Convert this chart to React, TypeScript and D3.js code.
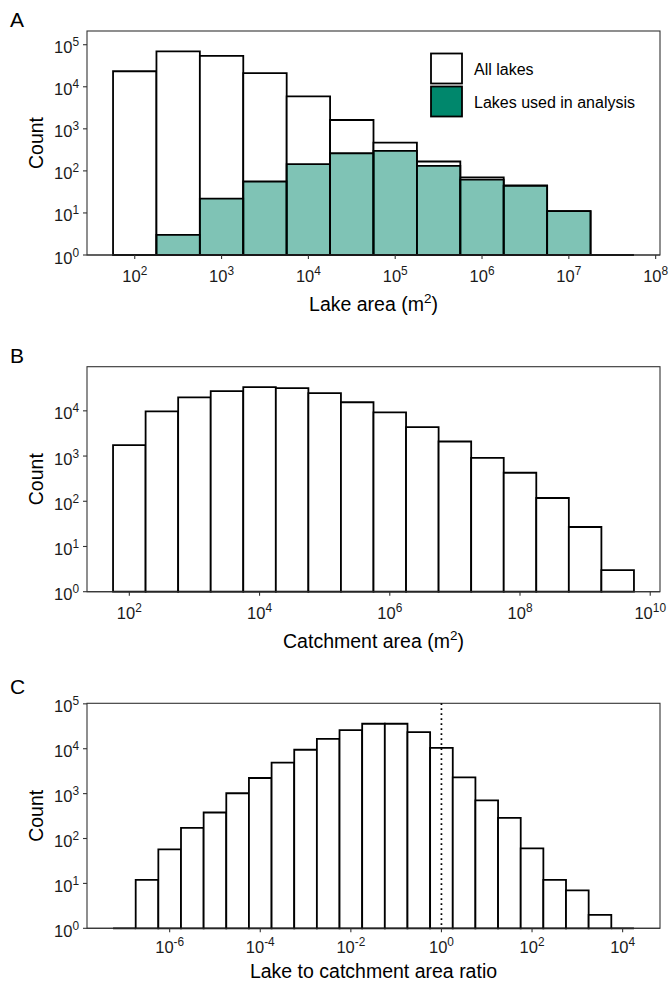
import React from "react";
import * as d3 from "d3";

// ---------- DATA ----------
// Panel A: lake area histogram (bin edges as log10 exponents, width 0.5 decades)
const lakeBinEdgesExp = [1.75, 2.25, 2.75, 3.25, 3.75, 4.25, 4.75, 5.25, 5.75, 6.25, 6.75, 7.25, 7.75];
const allLakesCounts = [23400, 69500, 54000, 21000, 5900, 1620, 470, 167, 70, 45, 11, 1];
const usedLakesCounts = [0, 3, 22, 56, 145, 263, 300, 132, 62, 44, 11, 0];
const lakeXTicksExp = [2, 3, 4, 5, 6, 7, 8];
const lakeYTicksExp = [0, 1, 2, 3, 4, 5];

// Panel B: catchment area histogram
const catchBinEdgesExp = [1.75, 2.25, 2.75, 3.25, 3.75, 4.25, 4.75, 5.25, 5.75, 6.25, 6.75, 7.25, 7.75, 8.25, 8.75, 9.25, 9.75];
const catchCounts = [1750, 9700, 19800, 27300, 33400, 31800, 24600, 15500, 9200, 4370, 2100, 910, 427, 118, 27, 3];
const catchXTicksExp = [2, 4, 6, 8, 10];
const catchYTicksExp = [0, 1, 2, 3, 4];

// Panel C: lake to catchment area ratio histogram
const ratioBinEdgesExp = [-7.25, -6.75, -6.25, -5.75, -5.25, -4.75, -4.25, -3.75, -3.25, -2.75, -2.25, -1.75, -1.25, -0.75, -0.25, 0.25, 0.75, 1.25, 1.75, 2.25, 2.75, 3.25, 3.75, 4.25];
const ratioCounts = [1, 12, 57, 173, 380, 1020, 2230, 4900, 9500, 16600, 26000, 36000, 36000, 23500, 10500, 2300, 710, 288, 60, 12, 7, 2, 1];
const ratioXTicksExp = [-6, -4, -2, 0, 2, 4];
const ratioYTicksExp = [0, 1, 2, 3, 4, 5];
const ratioRefLine = 1;

const legendLabels = ["All lakes", "Lakes used in analysis"];

// ---------- STYLE ----------
const FONT = "'Liberation Sans', Arial, Helvetica, sans-serif";
const TEAL = "#00876c";
const AXIS = "#333333";

type Series = { counts: number[]; fill: string; fillOpacity: number };

function Sup({ x, y, exp, anchor, size }: { x: number; y: number; exp: number; anchor: string; size: number }) {
  return (
    <text x={x} y={y} textAnchor={anchor} fontFamily={FONT} fontSize={size} fill="#1a1a1a">
      <tspan>10</tspan>
      <tspan dy={-7} fontSize={size * 0.72}>{String(exp)}</tspan>
    </text>
  );
}

function Panel(props: {
  label: string;
  labelY: number;
  top: number;
  bottom: number;
  edges: number[];
  series: Series[];
  xTicks: number[];
  yTicks: number[];
  title: React.ReactNode;
  tickLabelOffset: number;
  titleOffset: number;
  refLine?: number;
  children?: React.ReactNode;
}) {
  const { top, bottom, edges, series, xTicks, yTicks } = props;
  const left = 87;
  const right = 660;
  const lo = edges[0];
  const hi = edges[edges.length - 1];
  const pad = (hi - lo) * 0.05;
  const x = d3.scaleLog().domain([Math.pow(10, lo - pad), Math.pow(10, hi + pad)]).range([left, right]);
  const allCounts = series.flatMap((s) => s.counts);
  const maxC = d3.max(allCounts) as number;
  const yTopExp = Math.log10(maxC) * 1.1;
  const y = d3.scaleLog().domain([1, Math.pow(10, yTopExp)]).range([bottom, top]);

  return (
    <g>
      <text x={10} y={props.labelY} fontFamily={FONT} fontSize={21} fill="#000">{props.label}</text>
      <rect x={left} y={top} width={right - left} height={bottom - top} fill="none" stroke={AXIS} strokeWidth={1.1} />
      {series.map((s, si) => (
        <g key={si}>
          {s.counts.map((c, i) => {
            if (!c || c <= 0) return null;
            const x0 = x(Math.pow(10, edges[i]));
            const x1 = x(Math.pow(10, edges[i + 1]));
            const y0 = y(1);
            const y1 = y(c);
            const d = `M${x0},${y0}V${y1}H${x1}V${y0}Z`;
            return (
              <g key={i}>
                <path d={d} fill={s.fill} fillOpacity={s.fillOpacity} stroke="none" />
                <path d={d} fill="none" stroke="#000" strokeWidth={1.8} strokeLinejoin="miter" />
              </g>
            );
          })}
        </g>
      ))}
      {props.refLine !== undefined && (
        <line x1={x(props.refLine)} x2={x(props.refLine)} y1={top} y2={bottom} stroke="#000" strokeWidth={1.7} strokeDasharray="1.6 3.4" />
      )}
      <line x1={left} x2={right} y1={bottom} y2={bottom} stroke={AXIS} strokeWidth={1.1} />
      {yTicks.map((e) => (
        <g key={"y" + e}>
          <line x1={left - 4} x2={left} y1={y(Math.pow(10, e))} y2={y(Math.pow(10, e))} stroke={AXIS} strokeWidth={1.1} />
          <Sup x={left - 8} y={y(Math.pow(10, e)) + 8.5} exp={e} anchor="end" size={16.5} />
        </g>
      ))}
      {xTicks.map((e) => (
        <g key={"x" + e}>
          <line x1={x(Math.pow(10, e))} x2={x(Math.pow(10, e))} y1={bottom} y2={bottom + 4} stroke={AXIS} strokeWidth={1.1} />
          <Sup x={x(Math.pow(10, e))} y={bottom + props.tickLabelOffset} exp={e} anchor="middle" size={16.5} />
        </g>
      ))}
      <text
        transform={`translate(${42.5},${(top + bottom) / 2}) rotate(-90)`}
        textAnchor="middle"
        fontFamily={FONT}
        fontSize={19.5}
        fill="#000"
      >
        Count
      </text>
      <text x={(left + right) / 2} y={bottom + props.titleOffset} textAnchor="middle" fontFamily={FONT} fontSize={19.5} fill="#000">
        {props.title}
      </text>
      {props.children}
    </g>
  );
}

export default function App() {
  const m2 = (prefix: string) => (
    <>
      <tspan>{prefix} (m</tspan>
      <tspan dy={-8} fontSize={13.5}>2</tspan>
      <tspan dy={8}>)</tspan>
    </>
  );
  return (
    <svg width={670} height={984} style={{ position: "absolute", left: 0, top: 0, background: "#fff" }}>
      <rect width={670} height={984} fill="#fff" />
      <Panel
        label="A"
        labelY={27}
        top={31}
        bottom={255}
        edges={lakeBinEdgesExp}
        series={[
          { counts: allLakesCounts, fill: "#ffffff", fillOpacity: 1 },
          { counts: usedLakesCounts, fill: TEAL, fillOpacity: 0.5 },
        ]}
        xTicks={lakeXTicksExp}
        yTicks={lakeYTicksExp}
        title={m2("Lake area")}
        tickLabelOffset={27}
        titleOffset={56}
      >
        <g>
          <rect x={431} y={53.5} width={31} height={30} fill="#fff" stroke="#000" strokeWidth={1.8} />
          <rect x={431} y={86.5} width={31} height={30} fill={TEAL} stroke="#000" strokeWidth={1.8} />
          <text x={474} y={75} fontFamily={FONT} fontSize={16} fill="#000">{legendLabels[0]}</text>
          <text x={474} y={108} fontFamily={FONT} fontSize={16} fill="#000">{legendLabels[1]}</text>
        </g>
      </Panel>
      <Panel
        label="B"
        labelY={363}
        top={366.7}
        bottom={591.7}
        edges={catchBinEdgesExp}
        series={[{ counts: catchCounts, fill: "#ffffff", fillOpacity: 1 }]}
        xTicks={catchXTicksExp}
        yTicks={catchYTicksExp}
        title={m2("Catchment area")}
        tickLabelOffset={27}
        titleOffset={56}
      />
      <Panel
        label="C"
        labelY={694}
        top={703.3}
        bottom={928.3}
        edges={ratioBinEdgesExp}
        series={[{ counts: ratioCounts, fill: "#ffffff", fillOpacity: 1 }]}
        xTicks={ratioXTicksExp}
        yTicks={ratioYTicksExp}
        title={"Lake to catchment area ratio"}
        tickLabelOffset={25}
        titleOffset={50}
        refLine={ratioRefLine}
      />
    </svg>
  );
}
